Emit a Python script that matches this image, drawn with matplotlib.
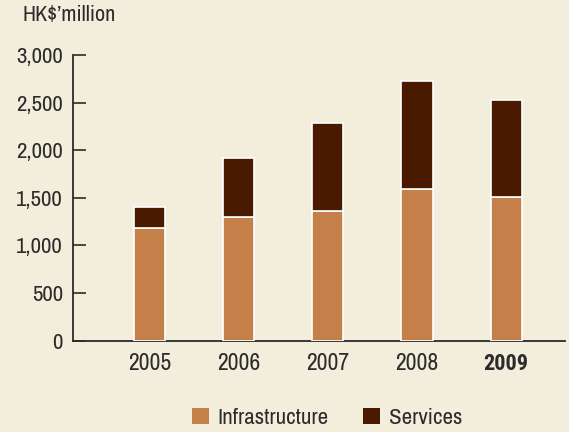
import numpy as np
import matplotlib
matplotlib.use("Agg")
import matplotlib.pyplot as plt
from matplotlib.patches import Patch

years = ["2005", "2006", "2007", "2008", "2009"]
infrastructure = [1186, 1302, 1361, 1593, 1512]
services = [217, 621, 920, 1137, 1014]
y_ticks = [0, 500, 1000, 1500, 2000, 2500, 3000]

BG = "#f3eedc"
INFRA = "#c48048"
SERV = "#4a1a00"
INK = "#2b2b2b"

plt.rcParams["font.family"] = ["Archivo Narrow", "Liberation Sans", "DejaVu Sans"]

fig = plt.figure(figsize=(5.69, 4.32), dpi=100, facecolor=BG)
ax = fig.add_axes([0.1278, 0.2113, 0.8652, 0.6614], facecolor=BG)

x = np.arange(len(years))
width = 0.35
ax.bar(x, infrastructure, width, color=INFRA, edgecolor="white", linewidth=1.2, zorder=3)
ax.bar(x, services, width, bottom=infrastructure, color=SERV, edgecolor="white",
       linewidth=1.2, zorder=3)

ax.set_xlim(-0.86, 4.66)
ax.set_ylim(0, 3000)

for side in ("top", "right"):
    ax.spines[side].set_visible(False)
for side in ("left", "bottom"):
    ax.spines[side].set_color(INK)
    ax.spines[side].set_linewidth(1.3)

ax.set_yticks(y_ticks)
ax.set_yticklabels([f"{v:,}" for v in y_ticks])
ax.tick_params(axis="y", direction="in", length=9, width=1.2, color=INK,
               labelsize=16.5, labelcolor=INK, pad=7)
ax.set_xticks(x)
ax.set_xticklabels(years)
ax.tick_params(axis="x", length=0, labelsize=17, labelcolor=INK, pad=9)
# latest year in bold; the narrow face has no bold cut, so use a condensed one
last = ax.get_xticklabels()[-1]
last.set_fontfamily(["Roboto Condensed", "Liberation Sans"])
last.set_fontweight("bold")
last.set_fontsize(16)

fig.text(0.04, 0.965, "HK$\u2019million", fontsize=16, color=INK, ha="left", va="center")

handles = [Patch(facecolor=INFRA, edgecolor="none", label="Infrastructure"),
           Patch(facecolor=SERV, edgecolor="none", label="Services")]
fig.legend(handles=handles, loc="center", bbox_to_anchor=(0.575, 0.032), ncol=2,
           frameon=False, fontsize=16.5, handlelength=0.72, handleheight=0.72,
           handletextpad=0.4, columnspacing=1.5, labelcolor=INK)

fig.savefig("out.png", dpi=100, facecolor=BG)
